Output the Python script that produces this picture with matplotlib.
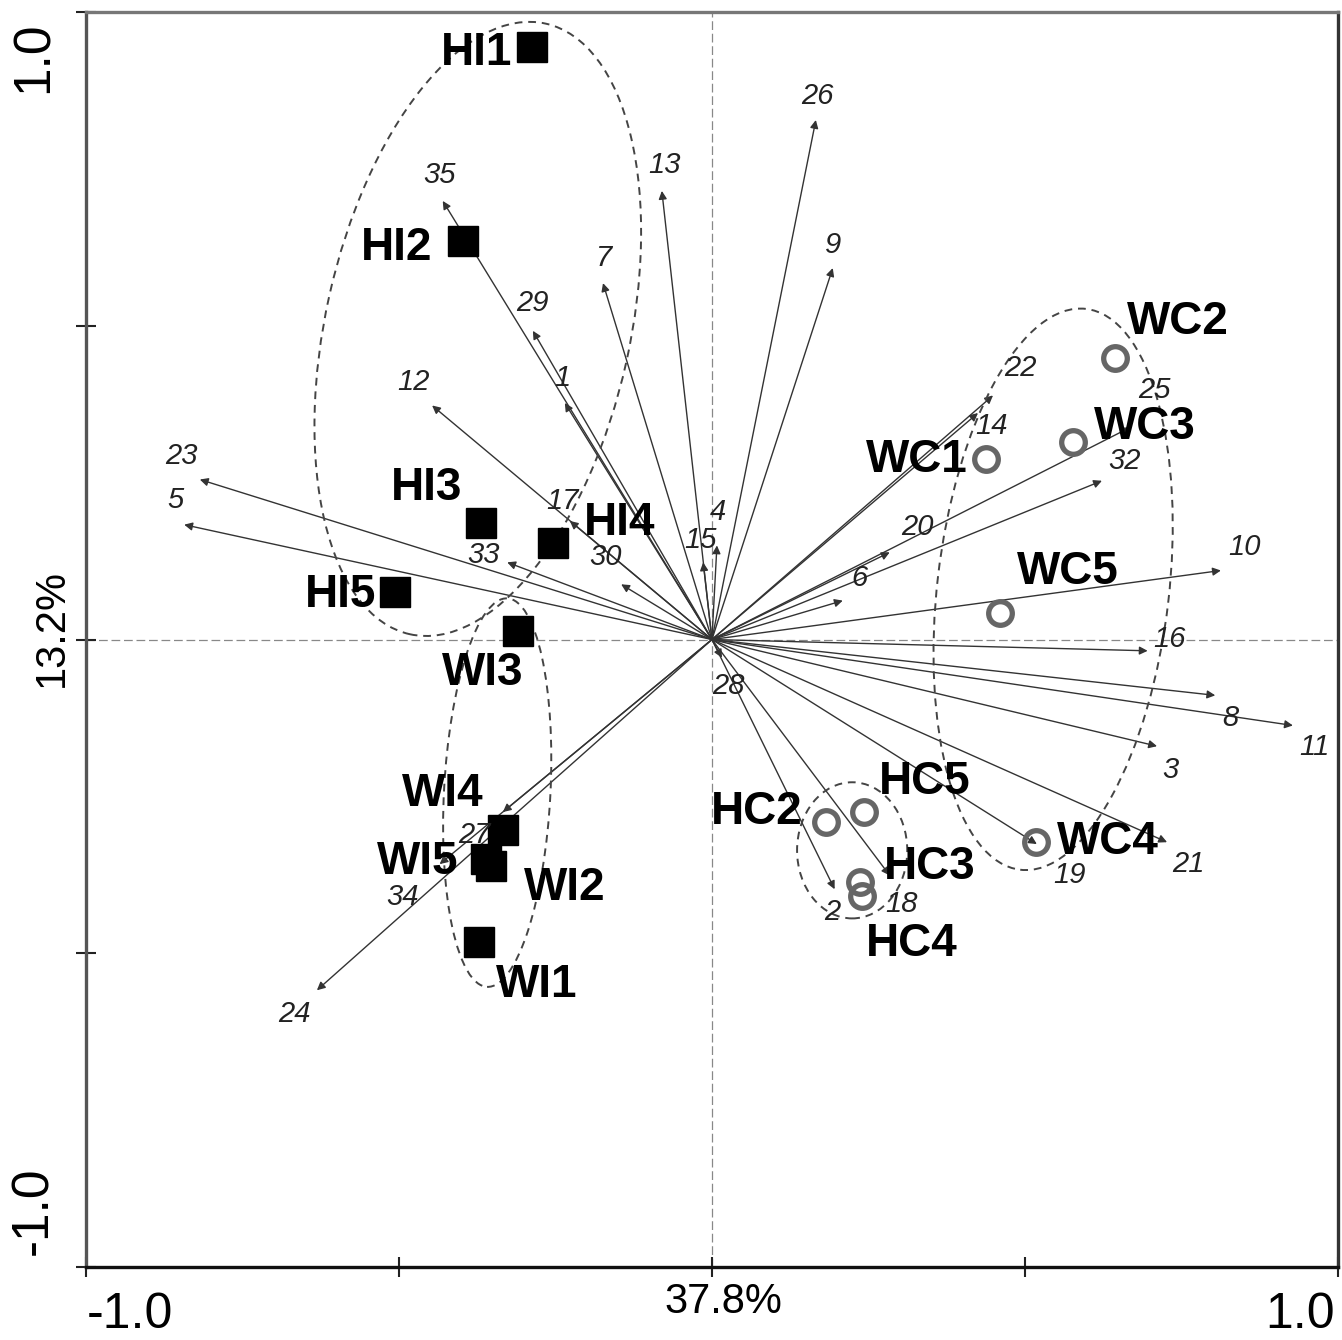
import numpy as np
import matplotlib
matplotlib.use("Agg")
import matplotlib.pyplot as plt
from matplotlib.patches import Ellipse

plt.rcParams['font.family'] = ['Liberation Sans', 'DejaVu Sans']

# species scores (arrow tips)
species = ['1', '2', '3', '4', '5', '6', '7', '8', '9', '10', '11', '12', '13', '14',
           '15', '16', '17', '18', '19', '20', '21', '22', '23', '24', '25', '26', '27',
           '28', '29', '30', '32', '33', '34', '35']
sp_x = [-0.235, 0.196, 0.711, 0.008, -0.843, 0.209, -0.174, 0.804, 0.193, 0.813, 0.928,
        -0.447, -0.080, 0.425, -0.014, 0.696, -0.227, 0.284, 0.519, 0.284, 0.727, 0.449,
        -0.818, -0.631, 0.668, 0.166, -0.334, 0.016, -0.286, -0.145, 0.623, -0.327,
        -0.435, -0.430]
sp_y = [0.377, -0.398, -0.170, 0.150, 0.183, 0.062, 0.568, -0.089, 0.592, 0.110, -0.137,
        0.373, 0.715, 0.361, 0.123, -0.018, 0.189, -0.376, -0.326, 0.139, -0.323, 0.389,
        0.255, -0.559, 0.338, 0.828, -0.275, -0.029, 0.492, 0.088, 0.253, 0.123,
        -0.358, 0.699]

# sample scores
inf_names = ['HI1', 'HI2', 'HI3', 'HI4', 'HI5', 'WI1', 'WI2', 'WI3', 'WI4', 'WI5']
inf_x = [-0.288, -0.398, -0.369, -0.254, -0.506, -0.372, -0.353, -0.310, -0.334, -0.361]
inf_y = [0.944, 0.635, 0.186, 0.154, 0.076, -0.482, -0.361, 0.014, -0.303, -0.350]

ctl_names = ['HC2', 'HC3', 'HC4', 'HC5', 'WC1', 'WC2', 'WC3', 'WC4', 'WC5']
ctl_x = [0.182, 0.236, 0.240, 0.243, 0.438, 0.644, 0.577, 0.518, 0.460]
ctl_y = [-0.291, -0.387, -0.408, -0.275, 0.288, 0.449, 0.314, -0.323, 0.043]

# group envelopes: centre x, centre y, width, height, angle
grp_cx = [-0.374, -0.343, 0.545, 0.224]
grp_cy = [0.495, -0.244, 0.080, -0.336]
grp_w = [0.486, 0.170, 0.370, 0.176]
grp_h = [0.997, 0.620, 0.900, 0.217]
grp_ang = [-12.6, -3.0, -6.7, 0.0]

# label offsets in pixels
sp_off = {'1': (-2, 25), '2': (-2, -23), '3': (13, -24), '4': (1, 33), '5': (-9, 25),
          '6': (17, 23), '7': (1, 25), '8': (15, -23), '9': (0, 23), '10': (24, 23),
          '11': (22, -22), '12': (-19, 23), '13': (3, 26), '14': (14, -13),
          '15': (-3, 22), '16': (22, 12), '17': (-7, 20), '18': (12, -29),
          '19': (33, -31), '20': (28, 25), '21': (21, -22), '22': (27, 27),
          '23': (-18, 24), '24': (-22, -24), '25': (24, 37), '26': (2, 24),
          '27': (-28, -23), '28': (6, -28), '29': (0, 28), '30': (-16, 27),
          '32': (23, 20), '33': (-24, 7), '34': (-37, -33), '35': (-3, 26)}
smp_off = {'HI1': (-55, -6), 'HI2': (-66, -7), 'HI3': (-54, 35), 'HI4': (67, 20),
           'HI5': (-55, -3), 'WI3': (-35, -42), 'WI4': (-60, 36), 'WI5': (-68, -3),
           'WI2': (74, -22), 'WI1': (58, -43), 'WC1': (-69, -1), 'WC2': (63, 36),
           'WC3': (72, 15), 'WC5': (68, 41), 'WC4': (72, 0), 'HC2': (-69, 10),
           'HC5': (61, 30), 'HC3': (70, 15), 'HC4': (50, -48)}

fig = plt.figure(figsize=(13.42, 13.40), dpi=100)
ax = fig.add_axes([0.064, 0.0545, 0.933, 0.9365])
ax.set_xlim(-1, 1)
ax.set_ylim(-1, 1)

ax.axhline(0, color='#888888', lw=0.9, ls=(0, (7, 3)), zorder=1)
ax.axvline(0, color='#888888', lw=0.9, ls=(0, (7, 3)), zorder=1)

for name, x, y in zip(species, sp_x, sp_y):
    ax.annotate('', xy=(x, y), xytext=(0, 0),
                arrowprops=dict(arrowstyle='-|>', lw=1.0, color='#333333',
                                mutation_scale=12, shrinkA=0, shrinkB=0), zorder=2)
    dx, dy = sp_off[name]
    ax.annotate(name, xy=(x, y), xytext=(dx, dy), textcoords='offset pixels',
                ha='center', va='center', fontsize=21, style='italic',
                color='#222222', zorder=5)

for cx, cy, w, h, a in zip(grp_cx, grp_cy, grp_w, grp_h, grp_ang):
    ax.add_patch(Ellipse((cx, cy), w, h, angle=a, fill=False, ec='#444444',
                         lw=1.4, ls=(0, (4, 3)), zorder=3))

ax.plot(inf_x, inf_y, 's', color='black', ms=22, zorder=4)
ax.plot(ctl_x, ctl_y, 'o', mfc='none', mec='#666666', mew=3.8, ms=17, zorder=4)

for names, xs, ys in [(inf_names, inf_x, inf_y), (ctl_names, ctl_x, ctl_y)]:
    for name, x, y in zip(names, xs, ys):
        dx, dy = smp_off[name]
        ax.annotate(name, xy=(x, y), xytext=(dx, dy), textcoords='offset pixels',
                    ha='center', va='center', fontsize=33, fontweight='bold',
                    color='black', zorder=6)

ticks = [-1, -0.5, 0, 0.5, 1]
ax.set_xticks(ticks)
ax.set_yticks(ticks)
ax.set_xticklabels([])
ax.set_yticklabels([])
ax.tick_params(direction='inout', length=14, width=1.5, color='#222222')

ax.spines['left'].set_color('#555555')
ax.spines['top'].set_color('#777777')
ax.spines['bottom'].set_color('#111111')
ax.spines['right'].set_color('#333333')
for s in ax.spines.values():
    s.set_linewidth(2.4)

# axis labels at tick positions
ax.text(-0.0415, 0.964, '1.0', transform=ax.transAxes, rotation=90,
        ha='center', va='center', fontsize=37)
ax.text(-0.0415, 0.045, '-1.0', transform=ax.transAxes, rotation=90,
        ha='center', va='center', fontsize=37)
ax.text(-0.027, 0.509, '13.2%', transform=ax.transAxes, rotation=90,
        ha='center', va='center', fontsize=30)
ax.text(0.035, -0.038, '-1.0', transform=ax.transAxes,
        ha='center', va='center', fontsize=36)
ax.text(0.509, -0.028, '37.8%', transform=ax.transAxes,
        ha='center', va='center', fontsize=30)
ax.text(0.970, -0.038, '1.0', transform=ax.transAxes,
        ha='center', va='center', fontsize=36)

fig.savefig('out.png', dpi=100)
